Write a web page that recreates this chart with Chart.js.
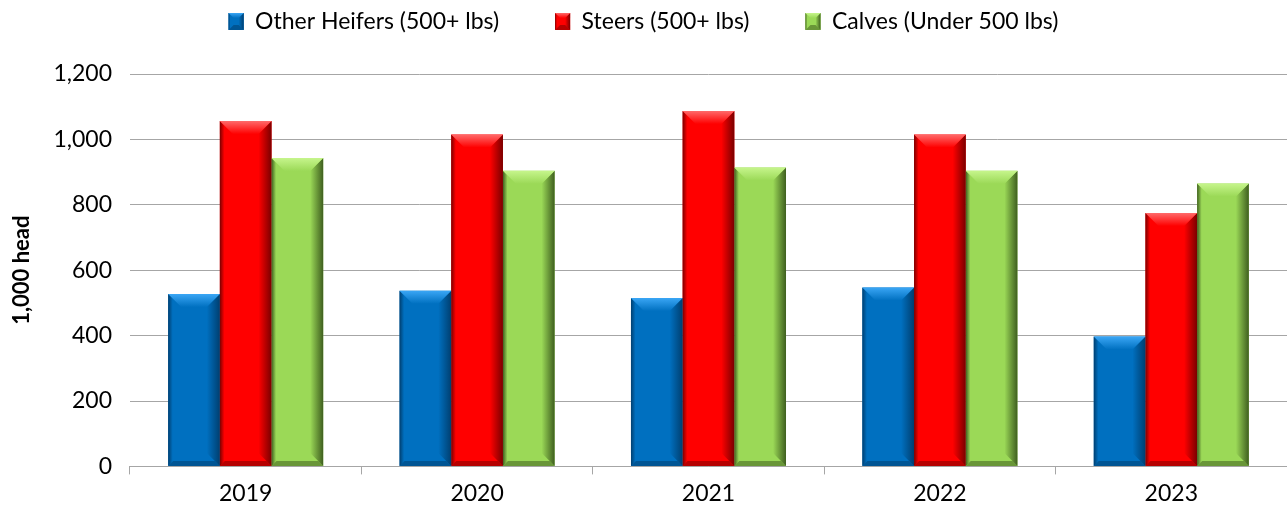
<!DOCTYPE html>
<html>
<head>
<meta charset="utf-8">
<script src="https://cdn.jsdelivr.net/npm/chart.js@4/dist/chart.umd.min.js"></script>
<style>
  html, body { margin: 0; padding: 0; background: #fff; }
  #wrap { width: 1287px; height: 512px; }
</style>
</head>
<body>
<div id="wrap"><canvas id="cattleChart"></canvas></div>
<script>
const years = ['2019', '2020', '2021', '2022', '2023'];
const heifers = [527, 537, 515, 547, 397];
const steers = [1056, 1015, 1087, 1015, 775];
const calves = [943, 904, 914, 904, 865];

const FONT = 'Lato, "Noto Sans", sans-serif';

// light / base / dark shades for the bevelled bars
const SHADES = [
    { light: '#3aa6f5', base: '#0070c0', dark: '#003f70' },
    { light: '#ff6a6a', base: '#ff0000', dark: '#7a0000' },
    { light: '#c6f58c', base: '#9bd957', dark: '#3f5f1f' }
];

function bevel(ctx, left, top, right, bottom, shade, size) {
    const b = Math.min(size, (bottom - top) / 2, (right - left) / 3);
    // left strip
    let g = ctx.createLinearGradient(left, 0, left + b, 0);
    g.addColorStop(0, shade.dark);
    g.addColorStop(0.35, shade.base);
    g.addColorStop(1, shade.base);
    ctx.fillStyle = g;
    ctx.beginPath();
    ctx.moveTo(left, top); ctx.lineTo(left + b, top + b);
    ctx.lineTo(left + b, bottom - b); ctx.lineTo(left, bottom);
    ctx.closePath(); ctx.fill();
    // right strip
    g = ctx.createLinearGradient(right - b, 0, right, 0);
    g.addColorStop(0, shade.base);
    g.addColorStop(1, shade.dark);
    ctx.fillStyle = g;
    ctx.beginPath();
    ctx.moveTo(right, top); ctx.lineTo(right - b, top + b);
    ctx.lineTo(right - b, bottom - b); ctx.lineTo(right, bottom);
    ctx.closePath(); ctx.fill();
    // top trapezoid
    g = ctx.createLinearGradient(0, top, 0, top + b);
    g.addColorStop(0, shade.light);
    g.addColorStop(1, shade.base);
    ctx.fillStyle = g;
    ctx.beginPath();
    ctx.moveTo(left, top); ctx.lineTo(right, top);
    ctx.lineTo(right - b, top + b); ctx.lineTo(left + b, top + b);
    ctx.closePath(); ctx.fill();
    // thin bottom edge
    const bb = Math.min(5, b);
    ctx.fillStyle = shade.dark;
    ctx.globalAlpha = 0.55;
    ctx.beginPath();
    ctx.moveTo(left, bottom); ctx.lineTo(right, bottom);
    ctx.lineTo(right - bb, bottom - bb); ctx.lineTo(left + bb, bottom - bb);
    ctx.closePath(); ctx.fill();
    ctx.globalAlpha = 1;
}

const bevelPlugin = {
    id: 'bevel',
    beforeInit(chart) {
        // leave more room under the legend
        const origFit = chart.legend.fit;
        chart.legend.fit = function () {
            origFit.call(this);
            this.height += 31;
        };
    },
    afterDatasetsDraw(chart) {
        const ctx = chart.ctx;
        ctx.save();
        chart.data.datasets.forEach((ds, i) => {
            const meta = chart.getDatasetMeta(i);
            if (meta.hidden) return;
            meta.data.forEach(bar => {
                const { x, y, base, width } = bar.getProps(['x', 'y', 'base', 'width'], true);
                bevel(ctx, x - width / 2, y, x + width / 2, base, SHADES[i], 13);
            });
        });
        ctx.restore();
    },
    afterDraw(chart) {
        // bevel the legend swatches too
        const legend = chart.legend;
        if (!legend || !legend.legendHitBoxes) return;
        const ctx = chart.ctx;
        const bw = legend.options.labels.boxWidth;
        const bh = legend.options.labels.boxHeight;
        ctx.save();
        legend.legendHitBoxes.forEach((box, i) => {
            const top = box.top + (box.height - bh) / 2;
            ctx.fillStyle = SHADES[i].base;
            ctx.fillRect(box.left, top, bw, bh);
            bevel(ctx, box.left, top, box.left + bw, top + bh, SHADES[i], 6);
        });
        ctx.restore();
    }
};

const ctx = document.getElementById('cattleChart').getContext('2d');
ctx.canvas.setAttribute('role', 'img');
ctx.canvas.setAttribute('aria-label', 'Cattle on feed by class, 2019-2023');

new Chart(ctx, {
    type: 'bar',
    data: {
        labels: years,
        datasets: [
            { label: 'Other Heifers (500+ lbs)', data: heifers, backgroundColor: SHADES[0].base },
            { label: 'Steers (500+ lbs)', data: steers, backgroundColor: SHADES[1].base },
            { label: 'Calves (Under 500 lbs)', data: calves, backgroundColor: SHADES[2].base }
        ]
    },
    options: {
        responsive: true,
        maintainAspectRatio: false,
        animation: false,
        layout: { padding: { left: 0, right: 0, top: 0, bottom: 0 } },
        datasets: {
            bar: { categoryPercentage: 0.67, barPercentage: 1.0, borderWidth: 0 }
        },
        plugins: {
            tooltip: { enabled: false },
            legend: {
                position: 'top',
                align: 'center',
                labels: {
                    boxWidth: 15,
                    boxHeight: 17,
                    padding: 10,
                    color: '#000',
                    font: { family: FONT, size: 23 },
                    generateLabels(chart) {
                        const items = Chart.defaults.plugins.legend.labels.generateLabels(chart);
                        // extra trailing space to widen the gap between entries
                        items.forEach((it, i) => {
                            if (i < items.length - 1) it.text = it.text + '\u2003\u2003\u2002';
                        });
                        return items;
                    }
                }
            }
        },
        scales: {
            x: {
                grid: {
                    display: true,
                    offset: true,
                    drawOnChartArea: false,
                    drawTicks: true,
                    tickLength: 8,
                    color: '#a6a6a6'
                },
                border: { display: true, color: '#a6a6a6', width: 1 },
                ticks: {
                    color: '#000',
                    padding: 5,
                    font: { family: FONT, size: 23 }
                }
            },
            y: {
                min: 0,
                max: 1200,
                ticks: {
                    stepSize: 200,
                    color: '#000',
                    padding: 18,
                    font: { family: FONT, size: 23 },
                    callback: v => v.toLocaleString('en-US')
                },
                grid: {
                    color: '#a6a6a6',
                    lineWidth: 1,
                    drawTicks: false
                },
                border: { display: false },
                title: {
                    display: true,
                    text: '1,000 head',
                    color: '#000',
                    padding: { top: 9, bottom: 0 },
                    font: { family: FONT, size: 22, weight: 'bold' }
                }
            }
        }
    },
    plugins: [bevelPlugin]
});
</script>
</body>
</html>
